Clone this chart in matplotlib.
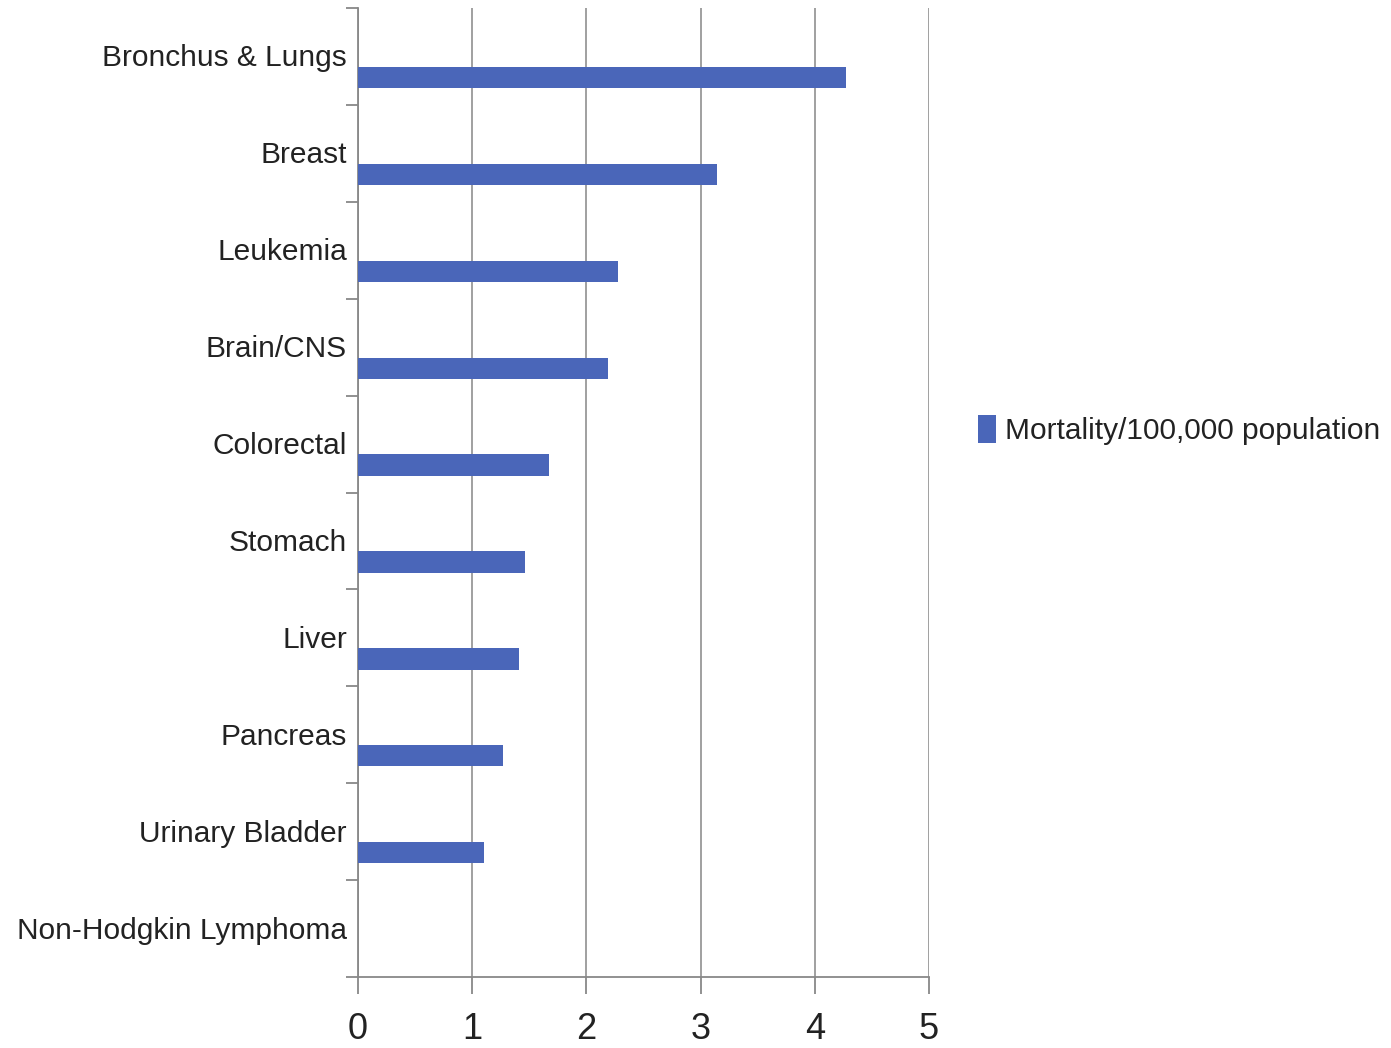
import matplotlib
matplotlib.use("Agg")
import matplotlib.pyplot as plt
import numpy as np
from matplotlib.patches import Patch

categories = ["Bronchus & Lungs", "Breast", "Leukemia", "Brain/CNS", "Colorectal",
              "Stomach", "Liver", "Pancreas", "Urinary Bladder", "Non-Hodgkin Lymphoma"]
values = [4.27, 3.14, 2.28, 2.19, 1.67, 1.46, 1.41, 1.27, 1.10, 0.0]
series_name = "Mortality/100,000 population"
xticks = [0, 1, 2, 3, 4, 5]

plt.rcParams['font.family'] = ['Liberation Sans', 'DejaVu Sans']

fig = plt.figure(figsize=(13.91, 10.48), dpi=100)
ax = fig.add_axes([358/1391, 1-977/1048, (929-358)/1391, (977-8)/1048])

bar_color = "#4a66b9"
text_color = "#222222"
fs = 21.5
n = len(categories)
pos = np.arange(n)
ax.barh(pos + 0.717, values, height=0.22, color=bar_color, zorder=3)

ax.set_xlim(0, 5)
ax.set_ylim(n, 0)
ax.set_xticks(xticks)
ax.set_xticklabels([str(t) for t in xticks], fontsize=26, color=text_color)
ax.tick_params(axis='x', direction='out', length=12, width=1.3, color="#888888", pad=13)

ax.set_yticks(np.arange(n + 1))
ax.set_yticklabels([])
ax.tick_params(axis='y', which='major', direction='out', length=9, width=1.3, color="#888888")
ax.set_yticks(pos + 0.49, minor=True)
ax.set_yticklabels(categories, minor=True, fontsize=fs, color=text_color)
ax.tick_params(axis='y', which='minor', length=0, pad=8)

ax.grid(axis='x', color="#999999", linewidth=1.3, zorder=0)
for s in ['top', 'right']:
    ax.spines[s].set_visible(False)
for s in ['left', 'bottom']:
    ax.spines[s].set_color("#888888")
    ax.spines[s].set_linewidth(1.3)

handle = [Patch(facecolor=bar_color, edgecolor='none')]
fig.legend(handle, [series_name], loc='center left', bbox_to_anchor=(978/1391, 1-430/1048),
           frameon=False, fontsize=fs, handlelength=0.6, handleheight=1.1,
           handletextpad=0.3, borderpad=0, borderaxespad=0, labelcolor=text_color)

fig.savefig("out.png", dpi=100)
